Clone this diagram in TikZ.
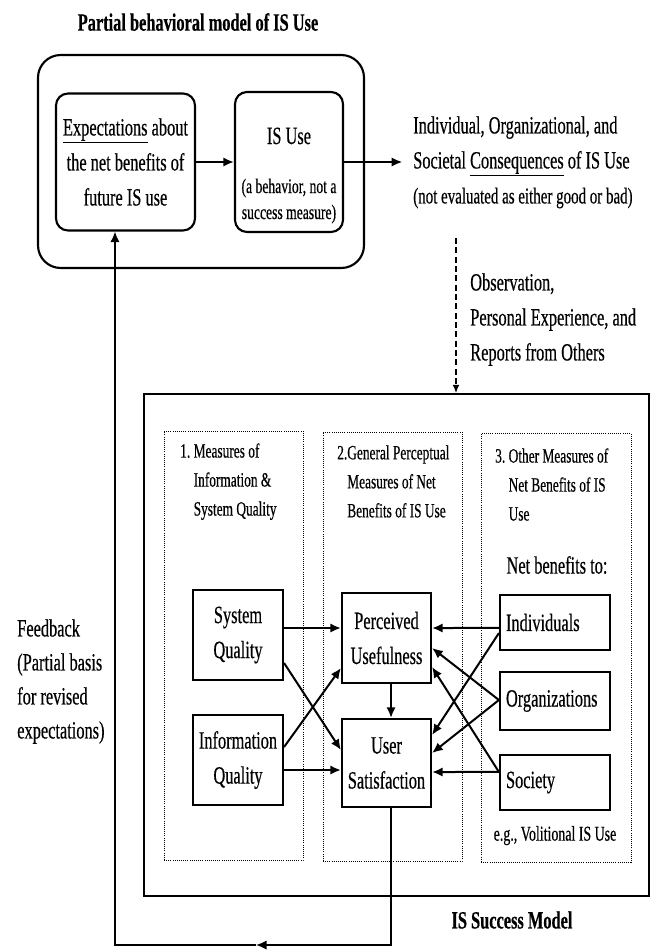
\documentclass[tikz,border=0pt]{standalone}
\usepackage{fontspec}
\setmainfont{Liberation Serif}[FakeStretch=0.66,FakeBold=0.4]
\usetikzlibrary{arrows.meta,positioning}
\newcommand{\mainsz}{\fontsize{18.6pt}{26.25pt}\selectfont}
\newcommand{\hdsz}{\fontsize{15.2pt}{21.75pt}\selectfont}
\newcommand{\notesz}{\fontsize{15.5pt}{19.5pt}\selectfont}
\newcommand{\consz}{\fontsize{17pt}{26.25pt}\selectfont}
\begin{document}
\begin{tikzpicture}[
  x=0.75pt, y=-0.75pt,
  box/.style={rectangle, draw, line width=1.6pt, align=center, inner sep=0pt, font=\mainsz},
  rbox/.style={box, rounded corners=9pt},
  benefit/.style={box, align=left, text width=73.5pt, inner sep=4.5pt, minimum width=82.5pt},
  column/.style={rectangle, draw, densely dotted, line width=0.6pt, inner sep=0pt},
  txt/.style={inner sep=0pt, align=left, font=\mainsz},
  head/.style={txt, font=\hdsz},
  heading/.style={inner sep=0pt, font=\mainsz\bfseries},
  arrow/.style={->, line width=1.5pt, >={Latex[length=8pt,width=7pt]}}
]
\useasboundingbox (0,0) rectangle (656,951);
% Partial behavioral model
\node[heading] (behavtitle) at (198,22) {Partial behavioral model of IS Use};
\node[rbox, rounded corners=17pt, minimum width=244.5pt, minimum height=159.75pt] (behav) at (201,161.5) {};
\node[rbox, minimum width=104.25pt, minimum height=102.75pt] (exp) at (125.5,162) {\underline{Expectations} about\\the net benefits of\\future IS use};
\node[rbox, minimum width=81pt, minimum height=105pt] (use) at (289,162) {\raisebox{13.5pt}[0pt][0pt]{\notesz\begin{tabular}[t]{@{}c@{}}\mainsz IS Use\\[17.25pt]
  (a behavior, not a\\success measure)\end{tabular}}};
\draw[arrow] (exp) -- (use);
% Consequences
\node[txt, anchor=north west] (conseq) at (413,116) {Individual, Organizational, and\\Societal \underline{Consequences} of IS Use\\\consz (not evaluated as either good or bad)};
\draw[arrow, shorten >=8pt] (use.east) -- (use.east -| conseq.west);
\node[txt, anchor=north west] (obs) at (470,273) {Observation,\\Personal Experience, and\\Reports from Others};

% IS success model
\node[box, minimum width=378.75pt, minimum height=376.5pt] (isbox) at (396.5,645) {};
\node[heading] (istitle) at (512,920) {IS Success Model};
\coordinate (obstop) at (456,238);
\draw[arrow, dash pattern=on 4.5pt off 2.5pt, line width=0.8pt, >={Latex[length=6pt,width=5pt]}] (obstop) -- (obstop |- isbox.north);
% Three groups of measures
\node[column, minimum width=104.25pt, minimum height=321.75pt] (col1) at (233.5,645.5) {};
\node[column, minimum width=104.25pt, minimum height=321.75pt] (col2) at (392.5,646.5) {};
\node[column, minimum width=112.5pt, minimum height=321.75pt] (col3) at (556,648) {};
\node[head, anchor=north west] (hd1) at (180,443) {1.\,Measures of\\\hphantom{1.\,}Information \&\\\hphantom{1.\,}System Quality};
\node[head, anchor=north west] (hd2) at (337,445) {2.General Perceptual\\\hphantom{2.}Measures of Net\\\hphantom{2.}Benefits of IS Use};
\node[head, anchor=north west] (hd3) at (495,448) {3.\,Other Measures of\\\hphantom{3.\,}Net Benefits of IS\\\hphantom{3.\,}Use};
\node[txt] (netto) at (557,565) {Net benefits to:};
% Measures
\node[box, minimum width=67.5pt, minimum height=67.5pt] (sysq) at (238,635) {System\\Quality};
\node[box, minimum width=67.5pt, minimum height=67.5pt] (infq) at (238,760) {Information\\Quality};
\node[box, minimum width=66.75pt, minimum height=67.5pt] (pu) at (386.5,638) {Perceived\\Usefulness};
\node[box, minimum width=66.75pt, minimum height=66pt] (us) at (386.5,763) {User\\Satisfaction};
\node[benefit, minimum height=41.25pt] (ind) at (555,622.5) {Individuals};
\node[benefit, minimum height=43.5pt] (org) at (555,701) {Organizations};
\node[benefit, minimum height=41.25pt] (soc) at (555,782.5) {Society};
\node[txt, font=\fontsize{15.8pt}{19pt}\selectfont, below=11pt of soc] (eg) {e.g., Volitional IS Use};
% Links between measures
\draw[arrow] ([yshift=5.25pt]sysq.east) -- ([yshift=7.5pt]pu.west);
\draw[arrow] ([yshift=-21pt]sysq.east) -- ([yshift=9.75pt]us.west);
\draw[arrow] ([yshift=9.75pt]infq.east) -- ([yshift=-22.5pt]pu.west);
\draw[arrow] ([yshift=-7.5pt]infq.east) -- ([yshift=-5.25pt]us.west);
\draw[arrow] ([xshift=3.4pt]pu.south) -- ([xshift=3.4pt]us.north);
\draw[arrow] ([yshift=-4.1pt]ind.west) -- ([yshift=7.5pt]pu.east);
\draw[arrow] ([yshift=-7.9pt]ind.west) -- ([yshift=21pt]us.east);
\draw[arrow] ([yshift=0.75pt]org.west) -- ([yshift=-7.5pt]pu.east);
\draw[arrow] ([yshift=0.75pt]org.west) -- ([yshift=7.5pt]us.east);
\draw[arrow] ([yshift=7.9pt]soc.west) -- ([yshift=-21.75pt]pu.east);
\draw[arrow] ([yshift=7.9pt]soc.west) -- ([yshift=-6.75pt]us.east);
% Feedback loop
\node[txt, anchor=north west, font=\fontsize{18.6pt}{25.5pt}\selectfont] (fbtext) at (17,619) {Feedback\\(Partial basis\\for revised\\expectations)};
\coordinate (fbmid) at (256,945);
\draw[arrow, line width=1.1pt] ([xshift=3.4pt]us.south) |- (fbmid);
\draw[arrow, line width=1.1pt] (fbmid) -| ([xshift=-7.9pt]exp.south);
\end{tikzpicture}
\end{document}
